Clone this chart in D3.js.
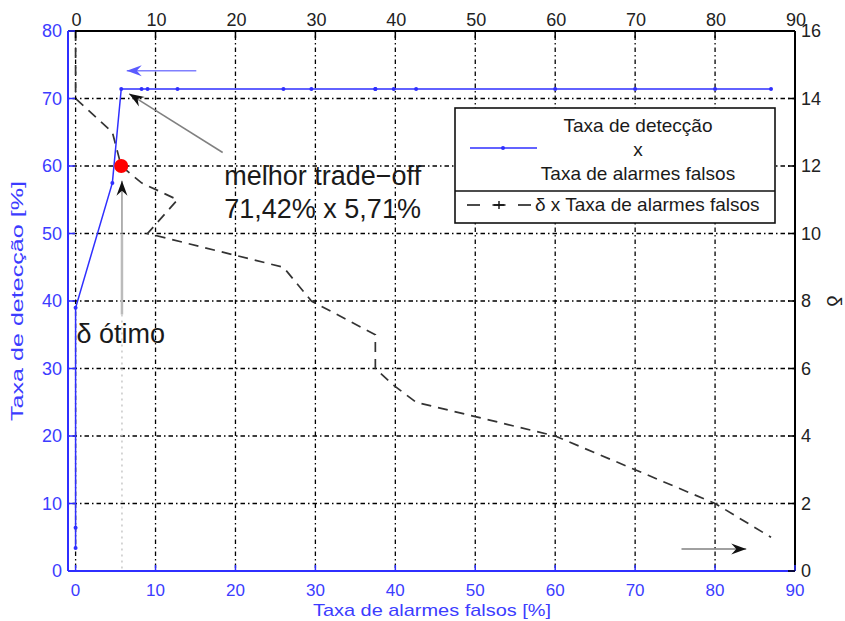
<!DOCTYPE html>
<html>
<head>
<meta charset="utf-8">
<script src="https://cdn.jsdelivr.net/npm/d3@7"></script>
<style>
  body { margin: 0; background: #fff; }
  text { font-family: "Liberation Sans", Arial, sans-serif; }
</style>
</head>
<body>
<div id="chart"></div>
<script>
// delta threshold, false alarm rate [%], detection rate [%]
var delta = [16, 15, 14, 13, 12, 11.5, 11, 10, 9, 8, 7, 6, 5.5, 5, 4, 3, 2, 1]
var falseAlarm = [0, 0, 0, 4.6, 5.71, 8.25, 12.75, 9, 26, 29.5, 37.5, 37.5, 39.8, 42.6, 60, 70, 80, 87]
var detection = [3.4, 6.4, 39, 57.5, 71.42, 71.42, 71.42, 71.42, 71.42, 71.42, 71.42, 71.42, 71.42, 71.42, 71.42, 71.42, 71.42, 71.42]
var xTicks = [0, 10, 20, 30, 40, 50, 60, 70, 80, 90]
var leftTicks = [0, 10, 20, 30, 40, 50, 60, 70, 80]
var rightTicks = [0, 2, 4, 6, 8, 10, 12, 14, 16]
var best = { fa: 5.71, det: 71.42, delta: 12 }

var W = 845, H = 621
var blue = "#2f2fff", blueText = "#3c3cff"

var svg = d3.select("#chart").append("svg")
    .attr("width", W)
    .attr("height", H)

svg.append("rect").attr("width", W).attr("height", H).attr("fill", "#fff")

var x = d3.scaleLinear().domain([-0.95, 90]).range([68, 795])
var yL = d3.scaleLinear().domain([0, 80]).range([571, 31])
var yR = d3.scaleLinear().domain([0, 16]).range([571, 31])

var pts = delta.map((d, i) => ({ delta: d, fa: falseAlarm[i], det: detection[i] }))

// grid
var grid = svg.append("g")
    .attr("stroke", "#000")
    .attr("stroke-width", 1.3)
    .attr("stroke-dasharray", "1.5,3,4.5,3")
grid.selectAll(".gv")
    .data(xTicks.filter(d => d < 90))
    .enter()
    .append("line")
    .attr("x1", d => x(d)).attr("x2", d => x(d))
    .attr("y1", yL(80)).attr("y2", yL(0))
grid.selectAll(".gh")
    .data(leftTicks.filter(d => d > 0 && d < 80))
    .enter()
    .append("line")
    .attr("x1", x.range()[0]).attr("x2", x.range()[1])
    .attr("y1", d => yL(d)).attr("y2", d => yL(d))

// "delta otimo" dotted guide
svg.append("line")
    .attr("x1", x(5.8)).attr("x2", x(5.8))
    .attr("y1", yL(38)).attr("y2", yL(0))
    .attr("stroke", "#c8c8c8")
    .attr("stroke-width", 1.5)
    .attr("stroke-dasharray", "2,4")

// dashed line: delta vs false alarm
svg.append("path")
    .datum(pts)
    .attr("d", d3.line().x(d => x(d.fa)).y(d => yR(d.delta)))
    .attr("fill", "none")
    .attr("stroke", "#333")
    .attr("stroke-width", 1.7)
    .attr("stroke-dasharray", "10,7")

// blue line: detection vs false alarm
svg.append("path")
    .datum(pts)
    .attr("d", d3.line().x(d => x(d.fa)).y(d => yL(d.det)))
    .attr("fill", "none")
    .attr("stroke", blue)
    .attr("stroke-width", 1.5)

svg.selectAll(".dot")
    .data(pts)
    .enter()
    .append("circle")
    .attr("cx", d => x(d.fa))
    .attr("cy", d => yL(d.det))
    .attr("r", 2)
    .attr("fill", blue)

// red optimum point
svg.append("circle")
    .attr("cx", x(best.fa))
    .attr("cy", yR(best.delta))
    .attr("r", 7)
    .attr("fill", "#ff0000")

// axes lines
svg.append("line")
    .attr("x1", x.range()[0]).attr("x2", x.range()[1])
    .attr("y1", 31).attr("y2", 31)
    .attr("stroke", "#000").attr("stroke-width", 2)
svg.append("line")
    .attr("x1", 795).attr("x2", 795)
    .attr("y1", 31).attr("y2", 571)
    .attr("stroke", "#000").attr("stroke-width", 2)
svg.append("line")
    .attr("x1", x.range()[0]).attr("x2", x.range()[1])
    .attr("y1", 571).attr("y2", 571)
    .attr("stroke", blue).attr("stroke-width", 2)
svg.append("line")
    .attr("x1", 68).attr("x2", 68)
    .attr("y1", 31).attr("y2", 571)
    .attr("stroke", blue).attr("stroke-width", 2)

// ticks
svg.selectAll(".tb")
    .data(xTicks)
    .enter()
    .append("line")
    .attr("x1", d => x(d)).attr("x2", d => x(d))
    .attr("y1", 571).attr("y2", 565)
    .attr("stroke", blue).attr("stroke-width", 1.5)
svg.selectAll(".tt")
    .data(xTicks)
    .enter()
    .append("line")
    .attr("x1", d => x(d)).attr("x2", d => x(d))
    .attr("y1", 31).attr("y2", 38)
    .attr("stroke", "#000").attr("stroke-width", 1.5)
svg.selectAll(".tl")
    .data(leftTicks)
    .enter()
    .append("line")
    .attr("x1", 68).attr("x2", 75)
    .attr("y1", d => yL(d)).attr("y2", d => yL(d))
    .attr("stroke", blue).attr("stroke-width", 1.5)
svg.selectAll(".tr")
    .data(rightTicks)
    .enter()
    .append("line")
    .attr("x1", 795).attr("x2", 788)
    .attr("y1", d => yR(d)).attr("y2", d => yR(d))
    .attr("stroke", "#000").attr("stroke-width", 1.5)

// tick labels
svg.selectAll(".lb")
    .data(xTicks)
    .enter()
    .append("text")
    .text(d => d)
    .attr("x", d => x(d))
    .attr("y", 596)
    .attr("text-anchor", "middle")
    .attr("font-size", 17)
    .attr("fill", blueText)
svg.selectAll(".lt")
    .data(xTicks)
    .enter()
    .append("text")
    .text(d => d)
    .attr("x", d => x(d) + 1)
    .attr("y", 26)
    .attr("text-anchor", "middle")
    .attr("font-size", 18)
    .attr("fill", "#222")
svg.selectAll(".ll")
    .data(leftTicks)
    .enter()
    .append("text")
    .text(d => d)
    .attr("x", 62)
    .attr("y", d => yL(d) + 6)
    .attr("text-anchor", "end")
    .attr("font-size", 18)
    .attr("fill", blueText)
svg.selectAll(".lr")
    .data(rightTicks)
    .enter()
    .append("text")
    .text(d => d)
    .attr("x", 801)
    .attr("y", d => yR(d) + 6)
    .attr("text-anchor", "start")
    .attr("font-size", 18)
    .attr("fill", "#222")

// axis titles
svg.append("text")
    .text("Taxa de alarmes falsos [%]")
    .attr("x", 432)
    .attr("y", 616)
    .attr("text-anchor", "middle")
    .attr("font-size", 17)
    .attr("textLength", 238)
    .attr("lengthAdjust", "spacingAndGlyphs")
    .attr("fill", blueText)
svg.append("text")
    .text("Taxa de detecção [%]")
    .attr("transform", "translate(23,301) rotate(-90)")
    .attr("text-anchor", "middle")
    .attr("font-size", 17)
    .attr("textLength", 240)
    .attr("lengthAdjust", "spacingAndGlyphs")
    .attr("fill", blueText)
svg.append("text")
    .text("δ")
    .attr("transform", "translate(827,301) rotate(90)")
    .attr("text-anchor", "middle")
    .attr("font-size", 20)
    .attr("fill", "#222")

// arrows
function arrow(x1, y1, x2, y2, lineColor, headColor) {
    var a = Math.atan2(y2 - y1, x2 - x1) * 180 / Math.PI
    svg.append("line")
        .attr("x1", x1).attr("y1", y1)
        .attr("x2", x2).attr("y2", y2)
        .attr("stroke", lineColor)
        .attr("stroke-width", 1.5)
    svg.append("path")
        .attr("d", "M0,0 L-15,-5.5 L-10,0 L-15,5.5 Z")
        .attr("transform", "translate(" + x2 + "," + y2 + ") rotate(" + a + ")")
        .attr("fill", headColor)
}
arrow(x(18.4), yL(62), x(6.7), yL(70.7), "#808080", "#111")
svg.append("line")
    .attr("x1", x(5.8)).attr("x2", x(5.8))
    .attr("y1", yL(38)).attr("y2", yL(50))
    .attr("stroke", "#bbb").attr("stroke-width", 2.5)
arrow(x(5.8), yL(50), x(5.8), yL(57.8), "#999", "#111")
arrow(x(15.1), yL(74.1), x(6.4), yL(74.1), "#8080ff", "#5a5aff")
arrow(x(75.8), yR(0.65), x(83.9), yR(0.65), "#808080", "#111")

// annotation texts
svg.append("text")
    .text("melhor trade\u2212off")
    .attr("x", x(18.6)).attr("y", yL(57.2))
    .attr("font-size", 27)
    .attr("fill", "#1a1a1a")
svg.append("text")
    .text("71,42% x 5,71%")
    .attr("x", x(18.6)).attr("y", yL(52.3))
    .attr("font-size", 27)
    .attr("fill", "#1a1a1a")
svg.append("text")
    .text("δ ótimo")
    .attr("x", x(0.1)).attr("y", yL(33.8))
    .attr("font-size", 27)
    .attr("fill", "#1a1a1a")

// legend
var lg = svg.append("g")
lg.append("rect")
    .attr("x", 455).attr("y", 108)
    .attr("width", 320).attr("height", 115)
    .attr("fill", "#fff")
    .attr("stroke", "#111").attr("stroke-width", 1.6)
lg.append("line")
    .attr("x1", 455).attr("x2", 775)
    .attr("y1", 191).attr("y2", 191)
    .attr("stroke", "#111").attr("stroke-width", 1.6)
lg.append("line")
    .attr("x1", 470).attr("x2", 537)
    .attr("y1", 148).attr("y2", 148)
    .attr("stroke", blue).attr("stroke-width", 1.5)
lg.append("circle")
    .attr("cx", 503).attr("cy", 148).attr("r", 2)
    .attr("fill", blue)
var legLines = ["Taxa de detecção", "x", "Taxa de alarmes falsos"]
lg.selectAll(".lgt")
    .data(legLines)
    .enter()
    .append("text")
    .text(d => d)
    .attr("x", 638)
    .attr("y", (d, i) => 132 + i * 24)
    .attr("text-anchor", "middle")
    .attr("font-size", 19)
    .attr("fill", "#1a1a1a")
lg.append("line")
    .attr("x1", 467).attr("x2", 531)
    .attr("y1", 205).attr("y2", 205)
    .attr("stroke", "#111").attr("stroke-width", 1.6)
    .attr("stroke-dasharray", "13,12.5")
lg.append("path")
    .attr("d", "M494,205 H504 M499,201 V209")
    .attr("stroke", "#111").attr("stroke-width", 1.4)
lg.append("text")
    .text("δ x Taxa de alarmes falsos")
    .attr("x", 535)
    .attr("y", 211)
    .attr("font-size", 19)
    .attr("fill", "#1a1a1a")
</script>
</body>
</html>
